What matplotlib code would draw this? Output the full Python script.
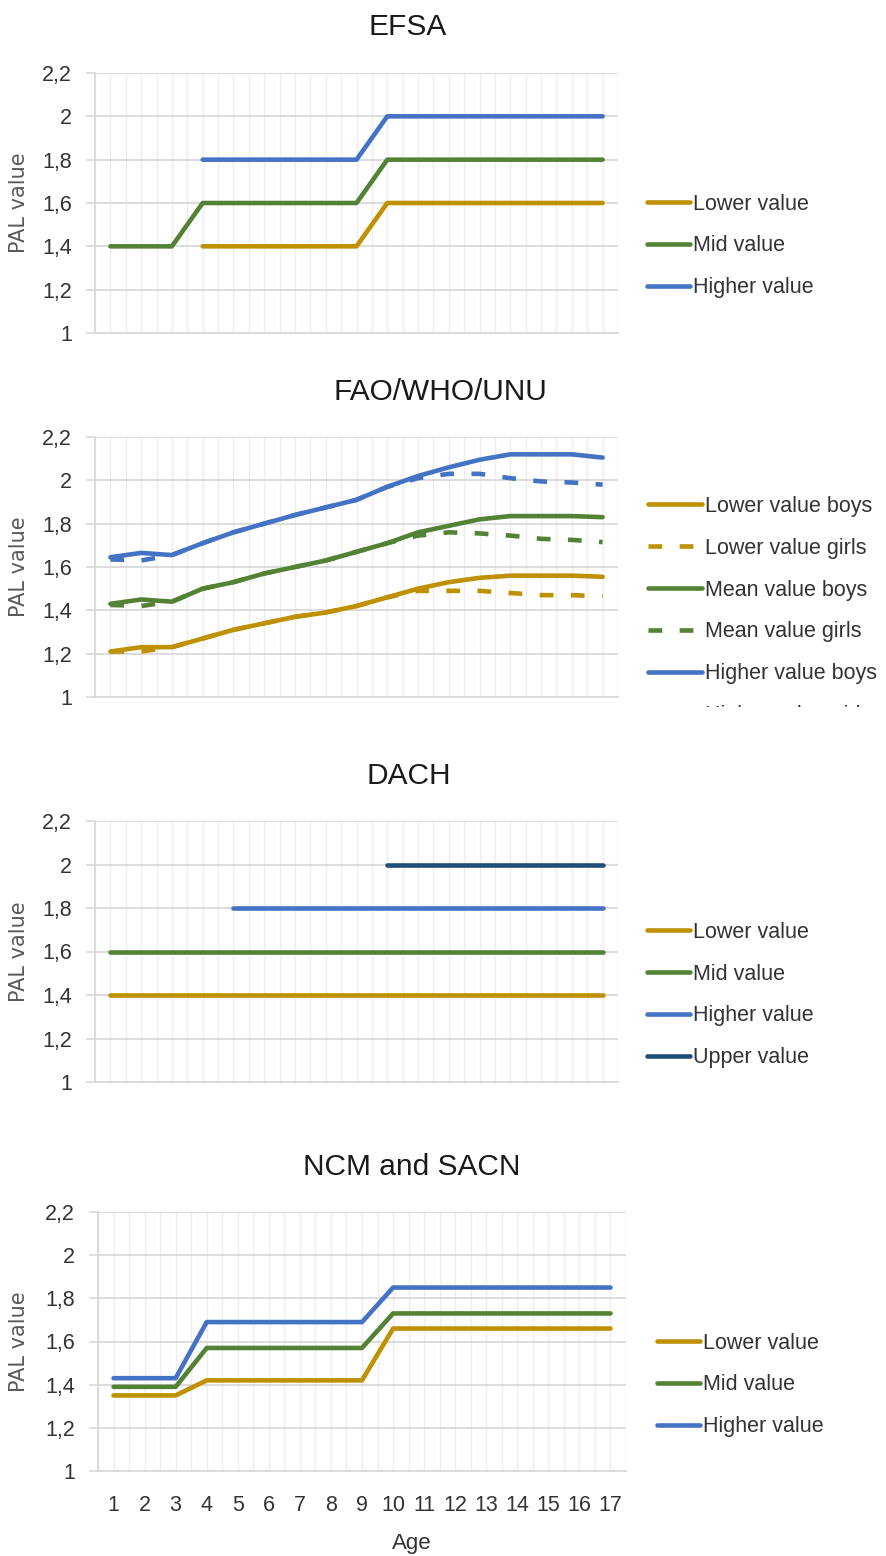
import numpy as np
import matplotlib
matplotlib.use("Agg")
import matplotlib.pyplot as plt
from matplotlib import font_manager
from matplotlib.ticker import FuncFormatter, MultipleLocator
from matplotlib.patches import Rectangle

# Data
ages = list(range(1, 18))
nan = np.nan

efsa_lower = [nan, nan, nan, 1.4, 1.4, 1.4, 1.4, 1.4, 1.4, 1.6, 1.6, 1.6, 1.6, 1.6, 1.6, 1.6, 1.6]
efsa_mid = [1.4, 1.4, 1.4, 1.6, 1.6, 1.6, 1.6, 1.6, 1.6, 1.8, 1.8, 1.8, 1.8, 1.8, 1.8, 1.8, 1.8]
efsa_higher = [nan, nan, nan, 1.8, 1.8, 1.8, 1.8, 1.8, 1.8, 2.0, 2.0, 2.0, 2.0, 2.0, 2.0, 2.0, 2.0]

fao_lower_boys = [1.21, 1.23, 1.23, 1.27, 1.31, 1.34, 1.37, 1.39, 1.42, 1.46, 1.50, 1.53, 1.55, 1.56, 1.56, 1.56, 1.555]
fao_lower_girls = [1.21, 1.21, 1.23, 1.27, 1.31, 1.34, 1.37, 1.39, 1.42, 1.46, 1.49, 1.49, 1.49, 1.48, 1.47, 1.47, 1.465]
fao_mean_boys = [1.43, 1.45, 1.44, 1.50, 1.53, 1.57, 1.60, 1.63, 1.67, 1.71, 1.76, 1.79, 1.82, 1.835, 1.835, 1.835, 1.83]
fao_mean_girls = [1.425, 1.42, 1.44, 1.50, 1.53, 1.57, 1.60, 1.63, 1.67, 1.71, 1.745, 1.76, 1.755, 1.745, 1.73, 1.725, 1.715]
fao_higher_boys = [1.645, 1.665, 1.655, 1.71, 1.76, 1.80, 1.84, 1.875, 1.91, 1.97, 2.02, 2.06, 2.095, 2.12, 2.12, 2.12, 2.105]
fao_higher_girls = [1.635, 1.63, 1.655, 1.71, 1.76, 1.80, 1.84, 1.875, 1.91, 1.97, 2.01, 2.03, 2.03, 2.01, 1.995, 1.99, 1.98]

dach_lower = [1.4] * 17
dach_mid = [1.6] * 17
dach_higher = [nan, nan, nan, nan, 1.8, 1.8, 1.8, 1.8, 1.8, 1.8, 1.8, 1.8, 1.8, 1.8, 1.8, 1.8, 1.8]
dach_upper = [nan, nan, nan, nan, nan, nan, nan, nan, nan, 2.0, 2.0, 2.0, 2.0, 2.0, 2.0, 2.0, 2.0]

ncm_lower = [1.35, 1.35, 1.35, 1.42, 1.42, 1.42, 1.42, 1.42, 1.42, 1.66, 1.66, 1.66, 1.66, 1.66, 1.66, 1.66, 1.66]
ncm_mid = [1.39, 1.39, 1.39, 1.57, 1.57, 1.57, 1.57, 1.57, 1.57, 1.73, 1.73, 1.73, 1.73, 1.73, 1.73, 1.73, 1.73]
ncm_higher = [1.43, 1.43, 1.43, 1.69, 1.69, 1.69, 1.69, 1.69, 1.69, 1.85, 1.85, 1.85, 1.85, 1.85, 1.85, 1.85, 1.85]

y_ticks = [1, 1.2, 1.4, 1.6, 1.8, 2, 2.2]

GOLD = "#BF9000"
GREEN = "#548235"
BLUE = "#4472C4"
DARK = "#1F4E79"

names = {f.name for f in font_manager.fontManager.ttflist}
title_font = "Liberation Sans Narrow" if "Liberation Sans Narrow" in names else "Liberation Sans"
plt.rcParams["font.family"] = ["Liberation Sans", "DejaVu Sans"]

W, H = 886, 1556
fig = plt.figure(figsize=(W / 100, H / 100), dpi=100)


def add_axes(left, right, top, bottom):
    return fig.add_axes([left / W, 1 - bottom / H, (right - left) / W, (bottom - top) / H])


def style(ax, show_x=False):
    ax.set_xlim(0.5, 17.5)
    ax.set_ylim(1, 2.2)
    ax.set_yticks(y_ticks)
    ax.yaxis.set_major_formatter(FuncFormatter(lambda v, p: f"{v:g}".replace(".", ",")))
    ax.set_xticks(ages)
    ax.xaxis.set_minor_locator(MultipleLocator(0.5))
    ax.grid(axis="x", which="both", color="#EDEDED", lw=1.0, zorder=0)
    ax.grid(axis="y", which="major", color="#D9D9D9", lw=1.3, zorder=0)
    ax.set_axisbelow(True)
    for s in ["top", "right"]:
        ax.spines[s].set_visible(False)
    for s in ["left", "bottom"]:
        ax.spines[s].set_color("#D9D9D9")
        ax.spines[s].set_linewidth(1.3)
    ax.tick_params(axis="y", length=6.5, width=1.2, color="#D9D9D9", pad=10,
                   labelsize=15.5, labelcolor="#333333")
    ax.tick_params(axis="x", which="both", length=0)
    if show_x:
        ax.tick_params(axis="x", pad=17, labelsize=15.5, labelcolor="#333333")
    else:
        ax.set_xticklabels([])


def line(ax, y, color, label, dashed=False):
    kw = dict(color=color, lw=3.3, label=label, solid_capstyle="round", solid_joinstyle="round")
    if dashed:
        kw.update(dashes=(3.0, 3.8), dash_capstyle="butt")
    ax.plot(ages, y, **kw)


def legend(ax, x, y, hl):
    ax.legend(loc="center left", bbox_to_anchor=(x / W, 1 - y / H), bbox_transform=fig.transFigure,
              frameon=False, fontsize=15.5, labelcolor="#333333", handlelength=hl,
              handletextpad=0.15, labelspacing=0.97, borderpad=0, borderaxespad=0)


def titles(title, tx, ty, plot_top, plot_bottom):
    fig.text(tx / W, 1 - ty / H, title, ha="center", va="baseline", fontsize=21.5,
             family=title_font, color="#1a1a1a")
    fig.text(19 / W, 1 - (plot_top + plot_bottom) / 2 / H, "PAL value", rotation=90,
             ha="center", va="center", fontsize=15, family="DejaVu Sans", color="#595959")


# EFSA
ax1 = add_axes(95, 618, 73, 333)
style(ax1)
line(ax1, efsa_lower, GOLD, "Lower value")
line(ax1, efsa_mid, GREEN, "Mid value")
line(ax1, efsa_higher, BLUE, "Higher value")
legend(ax1, 647, 246, 2.0)
titles("EFSA", 408, 35, 73, 333)

# FAO/WHO/UNU
ax2 = add_axes(95, 618, 437, 697)
style(ax2)
line(ax2, fao_lower_boys, GOLD, "Lower value boys")
line(ax2, fao_lower_girls, GOLD, "Lower value girls", dashed=True)
line(ax2, fao_mean_boys, GREEN, "Mean value boys")
line(ax2, fao_mean_girls, GREEN, "Mean value girls", dashed=True)
line(ax2, fao_higher_boys, BLUE, "Higher value boys")
line(ax2, fao_higher_girls, BLUE, "Higher value girls", dashed=True)
legend(ax2, 648, 611, 2.5)
titles("FAO/WHO/UNU", 440, 400, 437, 697)
# legend is cut off at the bottom in the original
fig.patches.append(Rectangle((620 / W, 1 - 745 / H), 266 / W, 38 / H, transform=fig.transFigure,
                             facecolor="white", edgecolor="none", zorder=10))

# DACH
ax3 = add_axes(95, 618, 821, 1082)
style(ax3)
line(ax3, dach_lower, GOLD, "Lower value")
line(ax3, dach_mid, GREEN, "Mid value")
line(ax3, dach_higher, BLUE, "Higher value")
line(ax3, dach_upper, DARK, "Upper value")
legend(ax3, 647, 995, 2.0)
titles("DACH", 409, 784, 821, 1082)

# NCM and SACN
ax4 = add_axes(98, 626, 1212, 1471)
style(ax4, show_x=True)
line(ax4, ncm_lower, GOLD, "Lower value")
line(ax4, ncm_mid, GREEN, "Mid value")
line(ax4, ncm_higher, BLUE, "Higher value")
legend(ax4, 657, 1385, 2.0)
titles("NCM and SACN", 412, 1175, 1212, 1471)
fig.text(412 / W, 1 - 1544 / H, "Age", ha="center", va="center", fontsize=16, color="#333333")

fig.savefig("out.png", dpi=100, facecolor="white")
